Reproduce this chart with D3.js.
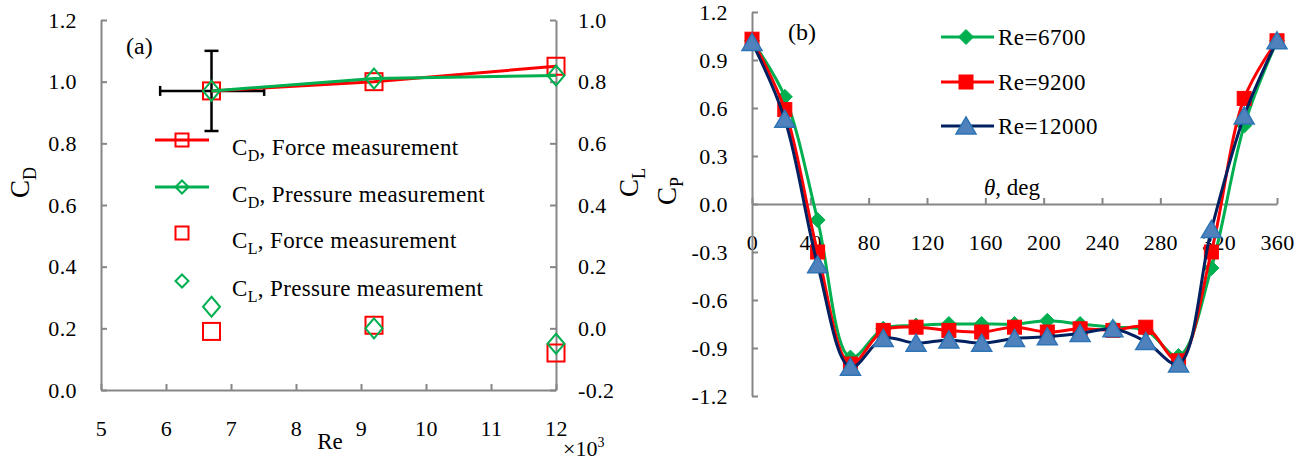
<!DOCTYPE html>
<html>
<head>
<meta charset="utf-8">
<script src="https://cdn.jsdelivr.net/npm/d3@7"></script>
<style>
  html, body { margin: 0; padding: 0; background: #fff; }
</style>
</head>
<body>
<svg id="chart" width="1314" height="473" font-family="Liberation Serif"></svg>
<script>
// ---- (a) drag / lift coefficients vs Reynolds number (×10^3) ----
const reK = [6.7, 9.2, 12];
const cdForce = [0.97, 1.00, 1.05];
const cdPressure = [0.97, 1.01, 1.02];
const clForce = [-0.01, 0.01, -0.08];
const clPressure = [0.07, 0.00, -0.05];
// uncertainty of the low-Re drag point
const errCentre = [6.7, 0.97];
const errRe = [5.91, 7.51];
const errCd = [0.84, 1.10];

const reTicks = [5, 6, 7, 8, 9, 10, 11, 12];
const cdTicks = [0, 0.2, 0.4, 0.6, 0.8, 1.0, 1.2];
const clTicks = [-0.2, 0, 0.2, 0.4, 0.6, 0.8, 1.0];

// ---- (b) pressure coefficient around the cylinder ----
const theta = [0, 22.5, 45, 67.5, 90, 112.5, 135, 157.5, 180, 202.5, 225, 247.5, 270, 292.5, 315, 337.5, 360];
const cp6700  = [1.02, 0.67, -0.10, -0.96, -0.78, -0.76, -0.75, -0.75, -0.75, -0.73, -0.75, -0.77, -0.79, -0.95, -0.40, 0.49, 1.02];
const cp9200  = [1.03, 0.59, -0.30, -1.00, -0.79, -0.77, -0.79, -0.80, -0.77, -0.80, -0.78, -0.79, -0.77, -0.98, -0.30, 0.66, 1.02];
const cp12000 = [1.01, 0.53, -0.38, -1.02, -0.84, -0.87, -0.85, -0.87, -0.84, -0.83, -0.81, -0.78, -0.86, -1.00, -0.16, 0.55, 1.02];
const cpSeries = ["Re=6700", "Re=9200", "Re=12000"];
const thetaTicks = [0, 40, 80, 120, 160, 200, 240, 280, 320, 360];
const cpTicks = [-1.2, -0.9, -0.6, -0.3, 0, 0.3, 0.6, 0.9, 1.2];

const FONT = "Liberation Serif";
const AXIS = "#868686";
const RED = "#ff0000", GREEN = "#00b050", NAVY = "#002060";
const TRI_FILL = "#4f81bd", TRI_STROKE = "#2e75b6";
const fmt = d => d.toFixed(1);

const svg = d3.select("#chart");

function styleAxis(g) {
  g.attr("font-family", FONT).attr("font-size", 22);
  g.selectAll(".domain").attr("stroke", AXIS).attr("stroke-width", 2);
  g.selectAll(".tick line").attr("stroke", AXIS).attr("stroke-width", 2);
  g.selectAll(".tick text").attr("fill", "#000").attr("font-family", FONT)
    .attr("font-size", 22).attr("letter-spacing", 0.4);
}

function addText(g, x, y, size) {
  return g.append("text").attr("x", x).attr("y", y).attr("font-family", FONT).attr("font-size", size);
}

// rotated symbol with subscript, e.g. C_D
function axisSymbol(g, x, y, main, sub) {
  const t = g.append("text").attr("transform", `translate(${x},${y}) rotate(-90)`)
    .attr("font-family", FONT).attr("font-size", 27);
  t.append("tspan").text(main);
  t.append("tspan").attr("dy", 7).attr("font-size", 18).text(sub);
}

// ================= panel (a) =================
const xA = d3.scaleLinear().domain([5, 12]).range([101, 556]);
const yA = d3.scaleLinear().domain([0, 1.2]).range([390, 20]);
const yB = d3.scaleLinear().domain([-0.2, 1.0]).range([390, 20]);

const pa = svg.append("g");

pa.append("g").attr("transform", `translate(0,${yA(0)})`)
  .call(d3.axisBottom(xA).tickValues(reTicks).tickFormat(d3.format("d"))
    .tickSizeInner(-6).tickSizeOuter(0).tickPadding(30))
  .call(styleAxis);
pa.append("g").attr("transform", `translate(${xA(5)},0)`)
  .call(d3.axisLeft(yA).tickValues(cdTicks).tickFormat(fmt)
    .tickSizeInner(-6).tickSizeOuter(0).tickPadding(24))
  .call(styleAxis);
pa.append("g").attr("transform", `translate(${xA(12)},0)`)
  .call(d3.axisRight(yB).tickValues(clTicks).tickFormat(fmt)
    .tickSizeInner(-6).tickSizeOuter(0).tickPadding(22))
  .call(styleAxis);

// axis titles
axisSymbol(pa, 29, 198, "C", "D");
axisSymbol(pa, 638, 197, "C", "L");
addText(pa, 330, 449, 23).attr("text-anchor", "middle").text("Re");
const mult = addText(pa, 563, 456, 22);
mult.append("tspan").text("×10");
mult.append("tspan").attr("dy", -9).attr("font-size", 14).text("3");
addText(pa, 126, 54, 24).text("(a)");

// error bars
const eg = pa.append("g").attr("stroke", "#000").attr("stroke-width", 2.5).attr("fill", "none");
const ex = xA(errCentre[0]), ey = yA(errCentre[1]);
eg.append("line").attr("x1", ex).attr("x2", ex).attr("y1", yA(errCd[0])).attr("y2", yA(errCd[1]));
eg.append("line").attr("x1", ex - 7).attr("x2", ex + 7).attr("y1", yA(errCd[0])).attr("y2", yA(errCd[0]));
eg.append("line").attr("x1", ex - 7).attr("x2", ex + 7).attr("y1", yA(errCd[1])).attr("y2", yA(errCd[1]));
eg.append("line").attr("x1", xA(errRe[0])).attr("x2", xA(errRe[1])).attr("y1", ey).attr("y2", ey);
eg.append("line").attr("x1", xA(errRe[0])).attr("x2", xA(errRe[0])).attr("y1", ey - 5).attr("y2", ey + 5);
eg.append("line").attr("x1", xA(errRe[1])).attr("x2", xA(errRe[1])).attr("y1", ey - 5).attr("y2", ey + 5);

const lineA = d3.line().x((d, i) => xA(reK[i])).y(d => yA(d));

function openSquare(g, x, y, s, color) {
  g.append("rect").attr("x", x - s / 2).attr("y", y - s / 2).attr("width", s).attr("height", s)
    .attr("fill", "none").attr("stroke", color).attr("stroke-width", 2);
}
function openDiamond(g, x, y, w, h, color) {
  g.append("path").attr("d", `M${x},${y - h}L${x + w},${y}L${x},${y + h}L${x - w},${y}Z`)
    .attr("fill", "none").attr("stroke", color).attr("stroke-width", 2);
}

// CD series
pa.append("path").datum(cdForce).attr("d", lineA).attr("fill", "none").attr("stroke", RED).attr("stroke-width", 3);
cdForce.forEach((v, i) => openSquare(pa, xA(reK[i]), yA(v), 17, RED));
pa.append("path").datum(cdPressure).attr("d", lineA).attr("fill", "none").attr("stroke", GREEN).attr("stroke-width", 3);
cdPressure.forEach((v, i) => openDiamond(pa, xA(reK[i]), yA(v), 8.5, 10, GREEN));
// CL series (right axis)
clForce.forEach((v, i) => openSquare(pa, xA(reK[i]), yB(v), 17, RED));
clPressure.forEach((v, i) => openDiamond(pa, xA(reK[i]), yB(v), 8.5, 10, GREEN));

// legend (a)
const legA = [
  { sub: "D", label: "Force measurement", color: RED, shape: "sq", line: true, y: 140 },
  { sub: "D", label: "Pressure measurement", color: GREEN, shape: "di", line: true, y: 187 },
  { sub: "L", label: "Force measurement", color: RED, shape: "sq", line: false, y: 233 },
  { sub: "L", label: "Pressure measurement", color: GREEN, shape: "di", line: false, y: 281 }
];
legA.forEach(d => {
  if (d.line) pa.append("line").attr("x1", 155).attr("x2", 209).attr("y1", d.y).attr("y2", d.y)
    .attr("stroke", d.color).attr("stroke-width", 3);
  if (d.shape === "sq") openSquare(pa, 182, d.y, 13, d.color);
  else openDiamond(pa, 182, d.y, 6.5, 6.5, d.color);
  const t = addText(pa, 232, d.y + 15, 23).attr("letter-spacing", 0.35);
  t.append("tspan").text("C");
  t.append("tspan").attr("dy", 6).attr("font-size", 16).text(d.sub);
  t.append("tspan").attr("dy", -6).text(", " + d.label);
});

// ================= panel (b) =================
const xP = d3.scaleLinear().domain([0, 360]).range([752, 1277]);
const yP = d3.scaleLinear().domain([-1.2, 1.2]).range([396, 12]);
const pb = svg.append("g");

pb.append("g").attr("transform", `translate(0,${yP(0)})`)
  .call(d3.axisBottom(xP).tickValues(thetaTicks).tickFormat(d3.format("d"))
    .tickSizeInner(-6).tickSizeOuter(0).tickPadding(30))
  .call(styleAxis);
pb.append("g").attr("transform", `translate(${xP(0)},0)`)
  .call(d3.axisLeft(yP).tickValues(cpTicks).tickFormat(fmt)
    .tickSizeInner(-6).tickSizeOuter(0).tickPadding(24))
  .call(styleAxis);

axisSymbol(pb, 676, 205, "C", "P");
addText(pb, 788, 40, 24).text("(b)");
const th = addText(pb, 984, 195, 23);
th.append("tspan").attr("font-style", "italic").text("θ");
th.append("tspan").text(", deg");

const cpData = [cp6700, cp9200, cp12000];
const lineColors = [GREEN, RED, NAVY];
const lineP = d3.line().x((d, i) => xP(theta[i])).y(d => yP(d)).curve(d3.curveCatmullRom.alpha(0.5));

function filledMarker(g, k, x, y) {
  if (k === 0) {
    g.append("path").attr("d", `M${x},${y - 7.5}L${x + 7.5},${y}L${x},${y + 7.5}L${x - 7.5},${y}Z`)
      .attr("fill", GREEN).attr("stroke", GREEN).attr("stroke-width", 1);
  } else if (k === 1) {
    g.append("rect").attr("x", x - 7).attr("y", y - 7).attr("width", 14).attr("height", 14)
      .attr("fill", RED).attr("stroke", RED).attr("stroke-width", 1);
  } else {
    g.append("path").attr("d", `M${x},${y - 9}L${x + 10},${y + 8}L${x - 10},${y + 8}Z`)
      .attr("fill", TRI_FILL).attr("stroke", TRI_STROKE).attr("stroke-width", 1.5);
  }
}

cpData.forEach((arr, k) => {
  pb.append("path").datum(arr).attr("d", lineP).attr("fill", "none")
    .attr("stroke", lineColors[k]).attr("stroke-width", 3);
  arr.forEach((v, i) => filledMarker(pb, k, xP(theta[i]), yP(v)));
});

// legend (b)
const legYs = [37, 82, 126];
cpSeries.forEach((name, k) => {
  const y = legYs[k];
  pb.append("line").attr("x1", 941).attr("x2", 994).attr("y1", y).attr("y2", y)
    .attr("stroke", lineColors[k]).attr("stroke-width", 3);
  filledMarker(pb, k, 966, y);
  addText(pb, 998, y + 8, 23).attr("letter-spacing", 0.5).text(name);
});
</script>
</body>
</html>
